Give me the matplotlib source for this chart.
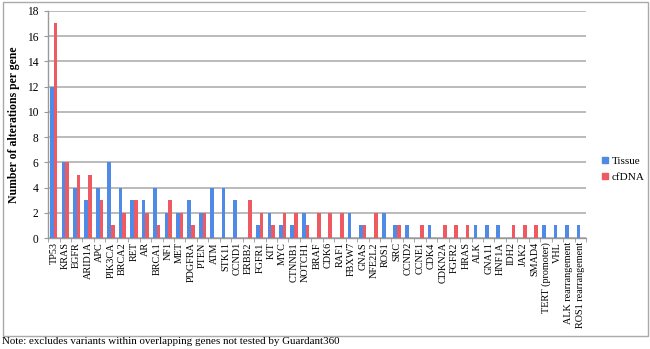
import matplotlib
matplotlib.use("Agg")
import matplotlib.pyplot as plt
import numpy as np
from matplotlib.patches import Patch, Rectangle

genes = ["TP53", "KRAS", "EGFR", "ARID1A", "APC", "PIK3CA", "BRCA2", "RET", "AR", "BRCA1",
         "NF1", "MET", "PDGFRA", "PTEN", "ATM", "STK11", "CCND1", "ERBB2", "FGFR1", "KIT",
         "MYC", "CTNNB1", "NOTCH1", "BRAF", "CDK6", "RAF1", "FBXW7", "GNAS", "NFE2L2", "ROS1",
         "SRC", "CCND2", "CCNE1", "CDK4", "CDKN2A", "FGFR2", "HRAS", "ALK", "GNA11", "HNF1A",
         "IDH2", "JAK2", "SMAD4", "TERT (promoter)", "VHL", "ALK rearrangement", "ROS1 rearrangement"]
tissue = [12, 6, 4, 3, 4, 6, 4, 3, 3, 4,
          2, 2, 3, 2, 4, 4, 3, 0, 1, 2,
          1, 1, 2, 0, 0, 0, 2, 1, 0, 2,
          1, 1, 0, 1, 0, 0, 0, 1, 1, 1,
          0, 0, 0, 1, 1, 1, 1]
cfdna = [17, 6, 5, 5, 3, 1, 2, 3, 2, 1,
         3, 2, 1, 2, 0, 0, 0, 3, 2, 1,
         2, 2, 1, 2, 2, 2, 0, 1, 2, 0,
         1, 0, 1, 0, 1, 1, 1, 0, 0, 0,
         1, 1, 1, 0, 0, 0, 0]
series_names = ["Tissue", "cfDNA"]
yticks = list(range(0, 19, 2))

plt.rcParams['font.family'] = ['Liberation Serif', 'DejaVu Serif']

fig = plt.figure(figsize=(6.5, 3.49), dpi=100)
ax = fig.add_axes([0.074, 0.318, 0.8275, 0.651])

blue = "#4f8ae6"
red = "#ee5a62"
x = np.arange(len(genes))
w = 0.32
ax.bar(x - w/2, tissue, width=w, color=blue, zorder=3)
ax.bar(x + w/2, cfdna, width=w, color=red, zorder=3)

ax.set_xlim(-0.5, len(genes) - 0.5)
ax.set_ylim(0, 18)
ax.set_yticks(yticks)
ax.set_yticklabels([str(v) for v in yticks], fontsize=8.3)
ax.yaxis.grid(True, color="#b5b5b5", linewidth=1.3, zorder=0)
ax.set_axisbelow(True)

ax.set_xticks(x)
ax.set_xticklabels(genes, rotation=90, fontsize=7.3)
ax.tick_params(axis='x', length=0, pad=3)
ax.set_xticks(np.arange(-0.5, len(genes), 1), minor=True)
ax.tick_params(axis='x', which='minor', length=3, color="#999999")
ax.tick_params(axis='y', length=3, color="#999999", pad=4)

for s in ["top", "right"]:
    ax.spines[s].set_visible(False)
for s in ["left", "bottom"]:
    ax.spines[s].set_color("#999999")
    ax.spines[s].set_linewidth(1.0)

ax.set_ylabel("Number of alterations per gene", fontsize=8.5, fontweight="bold", labelpad=5)

handles = [Patch(color=blue), Patch(color=red)]
fig.legend(handles, series_names, loc="center left", bbox_to_anchor=(0.918, 0.515),
           frameon=False, fontsize=8, handlelength=0.55, handleheight=0.55,
           handletextpad=0.3, labelspacing=0.6, borderpad=0)

fig.patches.append(Rectangle((0.005, 0.037), 0.992, 0.958, transform=fig.transFigure,
                             fill=False, edgecolor="#aaaaaa", linewidth=1.0))

fig.text(0.003, 0.022, "Note: excludes variants within overlapping genes not tested by Guardant360",
         fontsize=7.9, va="center", ha="left")

fig.savefig("out.png", dpi=100)
